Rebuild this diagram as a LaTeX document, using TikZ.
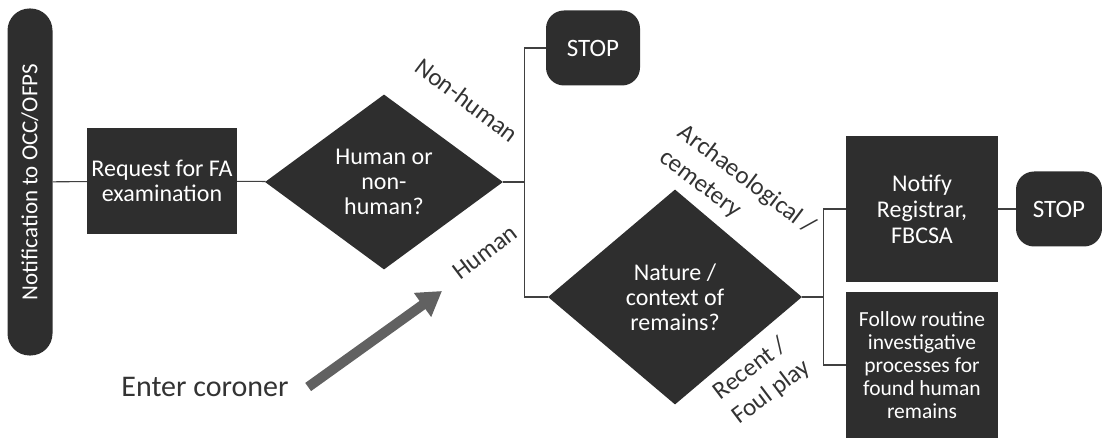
\documentclass[tikz,border=0pt]{standalone}
\usepackage{fontspec}
\setmainfont{Carlito}
\usepackage{tikz}
\usetikzlibrary{shapes,arrows,positioning,calc,arrows.meta}

\begin{document}
\begin{tikzpicture}[x=1pt, y=-1pt,
    box/.style={draw=none, fill=black!82, text=white, align=center, inner sep=2pt, font=\fontsize{24}{25}\selectfont},
    decision/.style={box, diamond, inner sep=0pt},
    stopbox/.style={box, rounded corners=18pt, minimum height=75pt, font=\fontsize{25}{26}\selectfont},
    lbl/.style={text=black!80, align=left, font=\fontsize{25}{31}\selectfont},
    line/.style={draw=black!75, line width=1.1pt}]
    \useasboundingbox (0,0) rectangle (1102,438);

    \node [box, rounded corners=22pt, rotate=90, minimum width=347pt, minimum height=45pt, font=\fontsize{23}{24}\selectfont] (notif) at (30,182) {Notification to OCC/OFPS};
    \node [box, minimum width=150pt, minimum height=106pt] (request) at (162,181) {Request for FA\\examination};
    \node [decision, minimum width=238pt, minimum height=175pt] (human) at (384,182) {Human or\\non-\\human?};
    \node [stopbox, minimum width=94pt] (stopA) at (593,48) {STOP};
    \node [decision, minimum width=254pt, minimum height=215pt] (nature) at (675,297) {Nature /\\context of\\remains?};
    \node [box, minimum width=152pt, minimum height=146pt, font=\fontsize{24}{26}\selectfont] (registrar) at (922,209) {Notify\\Registrar,\\FBCSA};
    \node [stopbox, minimum width=86pt] (stopB) at (1059,209) {STOP};
    \node [box, minimum width=152pt, minimum height=146pt, font=\fontsize{21.5}{23}\selectfont] (routine) at (922,365) {Follow routine\\investigative\\processes for\\found human\\remains};
    \node [text=black!80, font=\fontsize{30}{32}\selectfont] (coroner) at (205,387) {Enter coroner};

    \node [lbl, rotate=-37] (nonhuman) at (467,100) {Non-human};
    \node [lbl, rotate=37] (humanlbl) at (485,252) {Human};
    \node [lbl, rotate=-37] (archlbl) at (737,192) {Archaeological /\\cemetery};
    \node [lbl, rotate=37] (recentlbl) at (762,380) {Recent /\\Foul play};

    \draw [line] (notif) -- (request);
    \draw [line] (request) -- (human);
    \coordinate (splitA) at ($(human.east)+(21,0)$);
    \draw [line] (human.east) -- (splitA) |- (stopA);
    \draw [line] (splitA) |- (nature);
    \coordinate (splitB) at ($(nature.east)+(21,0)$);
    \draw [line] (nature.east) -- (splitB) |- (registrar);
    \draw [line] (splitB) |- (routine);
    \draw [line] (registrar) -- (stopB);

    \coordinate (coronertip) at (442,291);
    \draw [-{Triangle[length=24pt,width=28pt]}, line width=10pt, draw=black!62] ([xshift=16pt]coroner.east) -- (coronertip);
\end{tikzpicture}
\end{document}
